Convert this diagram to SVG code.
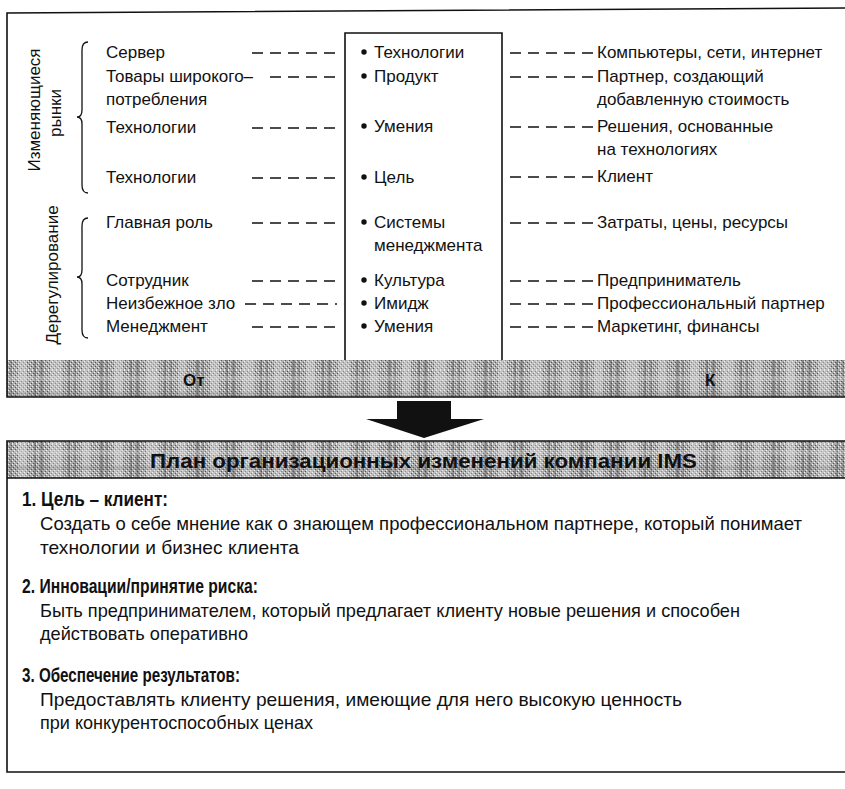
<svg xmlns="http://www.w3.org/2000/svg" width="845" height="789" viewBox="0 0 845 789">
  <defs>
    <style>
      .t{font-family:"Liberation Sans",Arial,sans-serif;font-size:17px;fill:#111}
      .lo{font-family:"Liberation Sans",Arial,sans-serif;font-size:19px;fill:#111}
      .h{font-family:"Liberation Sans",Arial,sans-serif;font-size:20px;font-weight:bold;fill:#111}
      .b{font-weight:bold}
      .frame{fill:none;stroke:#111;stroke-width:1.6}
      .dash{fill:none;stroke:#111;stroke-width:1.4;stroke-dasharray:11 7}
      .brace{fill:none;stroke:#111;stroke-width:1.3}
    </style>
    <!-- fine halftone grain -->
    <pattern id="grain" width="4" height="4" patternUnits="userSpaceOnUse">
      <rect width="4" height="4" fill="#ababab"/>
      <rect x="0" y="0" width="1" height="1" fill="#f0f0f0"/>
      <rect x="2" y="2" width="1" height="1" fill="#f0f0f0"/>
      <rect x="1" y="3" width="1" height="1" fill="#555"/>
      <rect x="3" y="1" width="1" height="1" fill="#555"/>
    </pattern>
    <!-- plaid stripes laid over the grain -->
    <pattern id="plaid" width="96" height="37" patternUnits="userSpaceOnUse">
      <rect width="96" height="37" fill="url(#grain)"/>
      <rect x="4" width="3" height="37" fill="#555" opacity="0.45"/>
      <rect x="10" width="2" height="37" fill="#555" opacity="0.35"/>
      <rect x="18" width="9" height="37" fill="#e4e4e4" opacity="0.4"/>
      <rect x="34" width="2" height="37" fill="#444" opacity="0.4"/>
      <rect x="40" width="3" height="37" fill="#444" opacity="0.35"/>
      <rect x="50" width="12" height="37" fill="#e8e8e8" opacity="0.35"/>
      <rect x="68" width="2" height="37" fill="#444" opacity="0.4"/>
      <rect x="74" width="2" height="37" fill="#444" opacity="0.3"/>
      <rect x="82" width="8" height="37" fill="#e4e4e4" opacity="0.35"/>
      <rect y="6" width="96" height="5" fill="#e4e4e4" opacity="0.3"/>
      <rect y="22" width="96" height="4" fill="#666" opacity="0.2"/>
    </pattern>
  </defs>

  <!-- upper panel: band and frame -->
  <rect x="7" y="360" width="840" height="37" fill="url(#plaid)"/>
  <path class="frame" d="M850,8 L7,13 L7,397 L850,397"/>

  <g id="band-from-to">
    <text class="t b" x="183" y="386" font-size="18">От</text>
    <text class="t b" x="705" y="386" font-size="18">К</text>
  </g>

  <!-- central column -->
  <g id="center-box">
    <path class="frame" d="M345,360 L345,33 L502,33 L502,360"/>
  </g>

  <!-- side labels with braces -->
  <g id="label-markets">
    <text class="t" transform="translate(40,110) rotate(-90)" text-anchor="middle">Изменяющиеся</text>
    <text class="t" transform="translate(61,113) rotate(-90)" text-anchor="middle">рынки</text>
    <path class="brace" d="M88,42 Q82,42 82,50 L82,110 Q82,117 77,117 Q82,117 82,124 L82,185 Q82,193 88,193"/>
  </g>
  <g id="label-dereg">
    <text class="t" transform="translate(58,275) rotate(-90)" text-anchor="middle">Дерегулирование</text>
    <path class="brace" d="M88,218 Q82,218 82,226 L82,270 Q82,277 77,277 Q82,277 82,284 L82,330 Q82,338 88,338"/>
  </g>

  <!-- "from" column -->
  <g id="from-items">
    <text class="t" x="106" y="58">Сервер</text>
    <text class="t" x="106" y="82">Товары широкого–</text>
    <text class="t" x="106" y="105">потребления</text>
    <text class="t" x="106" y="133">Технологии</text>
    <text class="t" x="106" y="183">Технологии</text>
    <text class="t" x="106" y="228">Главная роль</text>
    <text class="t" x="106" y="286">Сотрудник</text>
    <text class="t" x="106" y="309">Неизбежное зло</text>
    <text class="t" x="106" y="332">Менеджмент</text>
  </g>

  <!-- centre items -->
  <g id="center-items">
    <g fill="#111">
      <circle cx="364" cy="52" r="2.7"/>
      <circle cx="364" cy="76" r="2.7"/>
      <circle cx="364" cy="126" r="2.7"/>
      <circle cx="364" cy="177" r="2.7"/>
      <circle cx="364" cy="222" r="2.7"/>
      <circle cx="364" cy="280" r="2.7"/>
      <circle cx="364" cy="303" r="2.7"/>
      <circle cx="364" cy="326" r="2.7"/>
    </g>
    <text class="t" x="374" y="58">Технологии</text>
    <text class="t" x="374" y="82">Продукт</text>
    <text class="t" x="374" y="132">Умения</text>
    <text class="t" x="374" y="183">Цель</text>
    <text class="t" x="374" y="228">Системы</text>
    <text class="t" x="374" y="251">менеджмента</text>
    <text class="t" x="374" y="286">Культура</text>
    <text class="t" x="374" y="309">Имидж</text>
    <text class="t" x="374" y="332">Умения</text>
  </g>

  <!-- "to" column -->
  <g id="to-items">
    <text class="t" x="597" y="58">Компьютеры, сети, интернет</text>
    <text class="t" x="597" y="82">Партнер, создающий</text>
    <text class="t" x="597" y="105">добавленную стоимость</text>
    <text class="t" x="597" y="132">Решения, основанные</text>
    <text class="t" x="597" y="155">на технологиях</text>
    <text class="t" x="597" y="182">Клиент</text>
    <text class="t" x="597" y="228">Затраты, цены, ресурсы</text>
    <text class="t" x="597" y="286">Предприниматель</text>
    <text class="t" x="597" y="309">Профессиональный партнер</text>
    <text class="t" x="597" y="332">Маркетинг, финансы</text>
  </g>

  <!-- dashed connectors -->
  <g id="connectors">
    <path class="dash" d="M252,53 H337 M270,77 H337 M252,128 H337 M252,178 H337 M252,223 H337 M252,281 H337 M245,304 H337 M252,327 H337"/>
    <path class="dash" d="M510,53 H595 M510,77 H595 M510,127 H595 M510,177 H595 M510,223 H595 M510,281 H595 M510,304 H595 M510,327 H595"/>
  </g>

  <!-- transition arrow -->
  <g id="arrow">
    <polygon fill="#111" points="397,401 451,401 451,419 484,419 424,438 366,419 397,419"/>
  </g>

  <!-- lower panel -->
  <g id="plan">
    <rect x="7" y="441" width="840" height="37" fill="url(#plaid)"/>
    <path class="frame" d="M850,441 L7,441 L7,772 L850,772 M7,478 L850,478"/>
    <text class="h" x="150" y="468" font-size="22" textLength="547" lengthAdjust="spacingAndGlyphs">План организационных изменений компании IMS</text>

    <text class="h" x="22" y="506" textLength="146" lengthAdjust="spacingAndGlyphs">1. Цель – клиент:</text>
    <text class="lo" x="40" y="530" textLength="762" lengthAdjust="spacingAndGlyphs">Создать о себе мнение как о знающем профессиональном партнере, который понимает</text>
    <text class="lo" x="40" y="554" textLength="259" lengthAdjust="spacingAndGlyphs">технологии и бизнес клиента</text>

    <text class="h" x="22" y="593" textLength="236" lengthAdjust="spacingAndGlyphs">2. Инновации/принятие риска:</text>
    <text class="lo" x="40" y="617" textLength="700" lengthAdjust="spacingAndGlyphs">Быть предпринимателем, который предлагает клиенту новые решения и способен</text>
    <text class="lo" x="40" y="640" textLength="208" lengthAdjust="spacingAndGlyphs">действовать оперативно</text>

    <text class="h" x="22" y="682" textLength="218" lengthAdjust="spacingAndGlyphs">3. Обеспечение результатов:</text>
    <text class="lo" x="40" y="706" textLength="642" lengthAdjust="spacingAndGlyphs">Предоставлять клиенту решения, имеющие для него высокую ценность</text>
    <text class="lo" x="40" y="729" textLength="273" lengthAdjust="spacingAndGlyphs">при конкурентоспособных ценах</text>
  </g>
</svg>
